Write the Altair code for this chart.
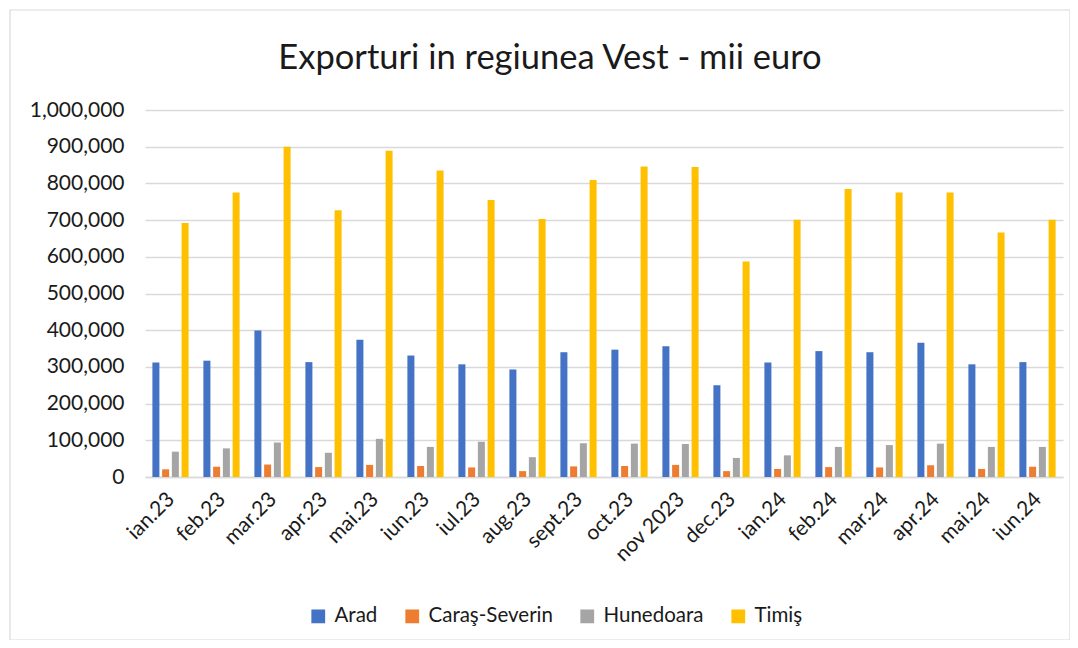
import altair as alt
import pandas as pd

months = ["ian.23", "feb.23", "mar.23", "apr.23", "mai.23", "iun.23", "iul.23", "aug.23",
          "sept.23", "oct.23", "nov 2023", "dec.23", "ian.24", "feb.24", "mar.24", "apr.24",
          "mai.24", "iun.24"]
arad = [312000, 317000, 399000, 313000, 374000, 331000, 307000, 293000, 340000, 347000,
        356000, 250000, 312000, 343000, 340000, 366000, 307000, 313000]
caras = [21000, 28000, 34000, 27000, 33000, 30000, 26000, 16000, 29000, 30000,
         33000, 16000, 22000, 27000, 26000, 32000, 22000, 28000]
hunedoara = [69000, 78000, 94000, 66000, 104000, 82000, 96000, 54000, 92000, 91000,
             90000, 52000, 59000, 82000, 87000, 91000, 82000, 82000]
timis = [692000, 775000, 900000, 727000, 889000, 835000, 755000, 703000, 809000, 846000,
         845000, 587000, 701000, 785000, 775000, 775000, 666000, 701000]
series = ["Arad", "Caraş-Severin", "Hunedoara", "Timiş"]
colors = ["#4472C4", "#ED7D31", "#A5A5A5", "#FFC000"]
y_ticks = [0, 100000, 200000, 300000, 400000, 500000, 600000, 700000, 800000, 900000, 1000000]
title_text = "Exporturi in regiunea Vest - mii euro"

rows = []
for name, vals in zip(series, [arad, caras, hunedoara, timis]):
    for m, v in zip(months, vals):
        rows.append({"luna": m, "judet": name, "valoare": v})
df = pd.DataFrame(rows)

FONT = "Lato"
W, H = 918, 367

bars = alt.Chart(df).mark_bar().encode(
    x=alt.X("luna:N", sort=months, title=None,
            scale=alt.Scale(paddingInner=0.29, paddingOuter=0.145),
            axis=alt.Axis(labelAngle=-45, labelFontSize=21, labelColor="#1a1a1a",
                          labelFont=FONT, ticks=False, domainColor="#d9d9d9",
                          domainWidth=1.5, labelPadding=11, labelOffset=-7, grid=False)),
    xOffset=alt.XOffset("judet:N", sort=series, scale=alt.Scale(paddingInner=0.28)),
    y=alt.Y("valoare:Q", title=None,
            scale=alt.Scale(domain=[0, 1000000], nice=False),
            axis=alt.Axis(values=y_ticks, format=",d", labelFontSize=21, labelFont=FONT,
                          labelColor="#1a1a1a", ticks=False, domain=False,
                          gridColor="#d9d9d9", gridWidth=1.5, labelPadding=21)),
    color=alt.Color("judet:N", sort=series, scale=alt.Scale(domain=series, range=colors),
                    legend=alt.Legend(title=None, orient="none", direction="horizontal",
                                      legendX=163, legendY=496, symbolType="square",
                                      symbolSize=190, symbolStrokeWidth=0,
                                      labelFontSize=20.5, labelFont=FONT, labelColor="#1a1a1a",
                                      columnPadding=24, labelOffset=6)),
)

one = pd.DataFrame({"t": [title_text]})

frame = alt.Chart(one).mark_rect(
    fill=None, stroke="#d9d9d9", strokeWidth=1.2
).encode(x=alt.value(-135), x2=alt.value(925), y=alt.value(-100), y2=alt.value(530))

title = alt.Chart(one).mark_text(
    font=FONT, fontSize=34.5, color="#1a1a1a", align="center", baseline="alphabetic"
).encode(text="t:N", x=alt.value(W / 2 - 54), y=alt.value(-41))

chart = alt.layer(frame, title, bars).properties(
    width=W, height=H,
    autosize=alt.AutoSizeParams(type="none"),
    padding={"left": 137, "top": 102, "right": 7, "bottom": 163},
).configure_view(stroke=None)

chart.save("out.html", embed_options={"renderer": "svg", "actions": False})
